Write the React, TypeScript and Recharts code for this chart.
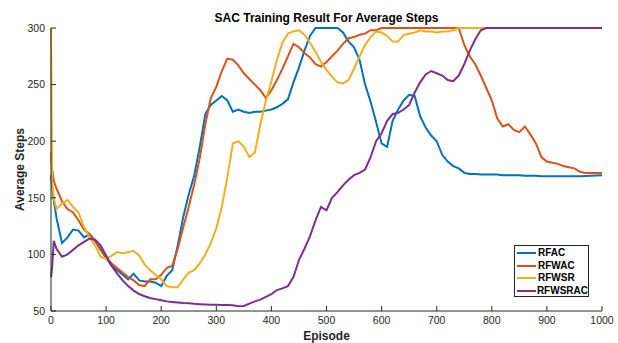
import { LineChart, Line, XAxis, YAxis } from 'recharts'

// episode grid the curves were read at
const episodes = [
  0, 2, 5,
  10, 20, 30, 40, 50, 60, 70, 80, 90, 100,
  110, 120, 130, 140, 150, 160, 170, 180, 190, 200,
  210, 220, 230, 240, 250, 260, 270, 280, 290, 300,
  310, 320, 330, 340, 350, 360, 370, 380, 390, 400,
  410, 420, 430, 440, 450, 460, 470, 480, 490, 500,
  510, 520, 530, 540, 550, 560, 570, 580, 590, 600,
  610, 620, 630, 640, 650, 660, 670, 680, 690, 700,
  710, 720, 730, 740, 750, 760, 770, 780, 790, 800,
  810, 820, 830, 840, 850, 860, 870, 880, 890, 900,
  910, 920, 930, 940, 950, 960, 970, 980, 990, 1000,
]

const rfac = [
  170, 160, 148,
  132, 110, 115, 122, 121, 115, 118, 112, 104, 97,
  90, 86, 82, 78, 83, 77, 76, 76, 75, 72,
  81, 86, 108, 133, 153, 170, 195, 224, 232, 236,
  240, 236, 226, 228, 226, 225, 226, 226, 227, 228,
  230, 233, 237, 252, 265, 280, 293, 300, 300, 300,
  300, 300, 296, 288, 283, 272, 250, 235, 217, 198,
  195, 218, 228, 236, 241, 240, 222, 212, 205, 200,
  188, 182, 178, 176, 172, 171, 171, 170.5, 170.5, 170.5,
  170.5, 170, 170, 170, 170, 169.5, 169.5, 169.5, 169, 169,
  169, 169, 169, 169, 169, 169, 169.3, 169.5, 169.7, 170,
]

const rfwac = [
  190, 175, 165,
  158, 147, 140, 137, 130, 122, 118, 112, 105, 97,
  92, 88, 84, 80, 77, 73, 72, 78, 78, 82,
  88, 90, 105, 124, 142, 162, 185, 215, 238, 248,
  262, 273, 272, 267, 260, 255, 250, 245, 238, 245,
  254, 264, 275, 286, 283, 278, 274, 268, 266, 270,
  275, 280, 286, 291, 292, 294, 295, 298, 298, 300,
  300, 300, 300, 300, 300, 300, 300, 300, 300, 300,
  300, 300, 300, 300, 285, 275, 268, 258, 247, 236,
  220, 213, 215, 210, 208, 213, 206, 198, 186, 182,
  181, 180, 178, 177, 176, 173, 172, 172, 172, 172,
]

const rfwsr = [
  300, 165, 150,
  140, 145, 148, 142, 137, 124, 115, 108, 98, 96,
  99, 102, 101, 102, 103, 99, 91, 86, 82, 78,
  72, 71, 71, 78, 84, 86, 92, 100, 110, 123,
  142, 168, 198, 200, 195, 186, 190, 215, 236, 253,
  272, 287, 295, 297, 298, 294, 287, 279, 270, 263,
  257, 252, 251, 254, 264, 275, 285, 292, 297, 296,
  293, 288, 288, 294, 295, 296, 298, 297, 297, 296,
  297, 297, 298, 300, 300, 300, 300, 300, 300, 300,
  300, 300, 300, 300, 300, 300, 300, 300, 300, 300,
  300, 300, 300, 300, 300, 300, 300, 300, 300, 300,
]

const rfwsrac = [
  80, 88, 112,
  105, 98, 100, 104, 108, 111, 114, 113, 108, 99,
  90, 83, 77, 72, 68, 65, 63, 61.5, 60.5, 59.5,
  58.5, 58, 57.5, 57, 56.8, 56.3, 56, 55.8, 55.6, 55.5,
  55.3, 55.2, 55, 54.2, 54.5, 56.5, 58.5, 60, 62.5, 65,
  68.5, 70, 72, 80, 95, 105, 116, 130, 142, 139,
  150, 155, 161, 166, 170, 172, 175, 186, 200, 207,
  218, 224, 225, 228, 232, 243, 252, 259, 262, 260,
  258, 254, 253, 258, 268, 280, 290, 298, 300, 300,
  300, 300, 300, 300, 300, 300, 300, 300, 300, 300,
  300, 300, 300, 300, 300, 300, 300, 300, 300, 300,
]

const seriesNames = ['RFAC', 'RFWAC', 'RFWSR', 'RFWSRAC']
const seriesColors = ['#0072BD', '#D95319', '#EDB120', '#7E2F8E']
const xTicks = [0, 100, 200, 300, 400, 500, 600, 700, 800, 900, 1000]
const yTicks = [50, 100, 150, 200, 250, 300]

const data = episodes.map((ep, i) => ({
  ep,
  RFAC: rfac[i],
  RFWAC: rfwac[i],
  RFWSR: rfwsr[i],
  RFWSRAC: rfwsrac[i],
}))

const AXIS = '#262626'
const FONT = '"Liberation Sans", Arial, sans-serif'
const TICK_GAP = 6
const TICK_LEN = 5

function BottomTick({ x, y, payload }: any) {
  const y0 = y - TICK_GAP
  return (
    <g>
      <line x1={x} y1={y0} x2={x} y2={y0 - TICK_LEN} stroke={AXIS} />
      <text x={x} y={y} dy="0.71em" textAnchor="middle" fontSize={10.5} fill={AXIS} fontFamily={FONT}>
        {payload.value}
      </text>
    </g>
  )
}

function LeftTick({ x, y, payload }: any) {
  const x0 = x + TICK_GAP
  return (
    <g>
      <line x1={x0} y1={y} x2={x0 + TICK_LEN} y2={y} stroke={AXIS} />
      <text x={x} y={y} dy="0.355em" textAnchor="end" fontSize={10.5} fill={AXIS} fontFamily={FONT}>
        {payload.value}
      </text>
    </g>
  )
}

function TopTick({ x, y }: any) {
  return <line x1={x} y1={y} x2={x} y2={y + TICK_LEN} stroke={AXIS} />
}

function RightTick({ x, y }: any) {
  return <line x1={x} y1={y} x2={x - TICK_LEN} y2={y} stroke={AXIS} />
}

function XTitle({ viewBox }: any) {
  return (
    <text x={viewBox.x + viewBox.width / 2} y={viewBox.y + 29} textAnchor="middle"
      fontSize={12} fontWeight="bold" fill={AXIS} fontFamily={FONT}>
      Episode
    </text>
  )
}

function YTitle({ viewBox }: any) {
  const cx = 24
  const cy = viewBox.y + viewBox.height / 2
  return (
    <text x={cx} y={cy} transform={`rotate(-90 ${cx} ${cy})`} textAnchor="middle"
      fontSize={12} fontWeight="bold" fill={AXIS} fontFamily={FONT}>
      Average Steps
    </text>
  )
}

export default function App() {
  return (
    <div style={{ position: 'absolute', left: 0, top: 0, width: 618, height: 343, background: '#fff' }}>
      <div style={{
        position: 'absolute', left: 51, top: 11, width: 551, textAlign: 'center',
        fontFamily: FONT, fontWeight: 'bold', fontSize: 12, lineHeight: '14px', color: '#000',
      }}>
        SAC Training Result For Average Steps
      </div>
      <LineChart width={618} height={343} data={data} margin={{ top: 28, right: 16, bottom: 0, left: 0 }}>
        <XAxis dataKey="ep" type="number" domain={[0, 1000]} ticks={xTicks} height={32}
          stroke={AXIS} tickLine={false} tickSize={0} tickMargin={TICK_GAP} tick={<BottomTick />}
          interval={0} label={<XTitle />} />
        <XAxis xAxisId="top" dataKey="ep" type="number" domain={[0, 1000]} ticks={xTicks} height={0}
          orientation="top" stroke={AXIS} tickLine={false} tickSize={0} tickMargin={0} tick={<TopTick />}
          interval={0} />
        <YAxis type="number" domain={[50, 300]} ticks={yTicks} width={51} stroke={AXIS}
          tickLine={false} tickSize={0} tickMargin={TICK_GAP} tick={<LeftTick />} interval={0}
          label={<YTitle />} />
        <YAxis yAxisId="right" type="number" domain={[50, 300]} ticks={yTicks} width={0}
          orientation="right" stroke={AXIS} tickLine={false} tickSize={0} tickMargin={0}
          tick={<RightTick />} interval={0} />
        {seriesNames.map((name, i) => (
          <Line key={name} dataKey={name} stroke={seriesColors[i]} strokeWidth={2}
            dot={false} type="linear" isAnimationActive={false} />
        ))}
      </LineChart>
      <div style={{
        position: 'absolute', left: 514, top: 245, width: 75, height: 52,
        border: `1px solid ${AXIS}`, background: '#fff', boxSizing: 'border-box', paddingTop: 1,
        fontFamily: FONT, fontWeight: 'bold', fontSize: 10, color: '#000',
      }}>
        {seriesNames.map((name, i) => (
          <div key={name} style={{ display: 'flex', alignItems: 'center', height: 12.5 }}>
            <svg width={21} height={4} style={{ marginLeft: 2 }}>
              <line x1={0} y1={2} x2={19} y2={2} stroke={seriesColors[i]} strokeWidth={2} />
            </svg>
            <span style={{ lineHeight: '12px' }}>{name}</span>
          </div>
        ))}
      </div>
    </div>
  )
}
